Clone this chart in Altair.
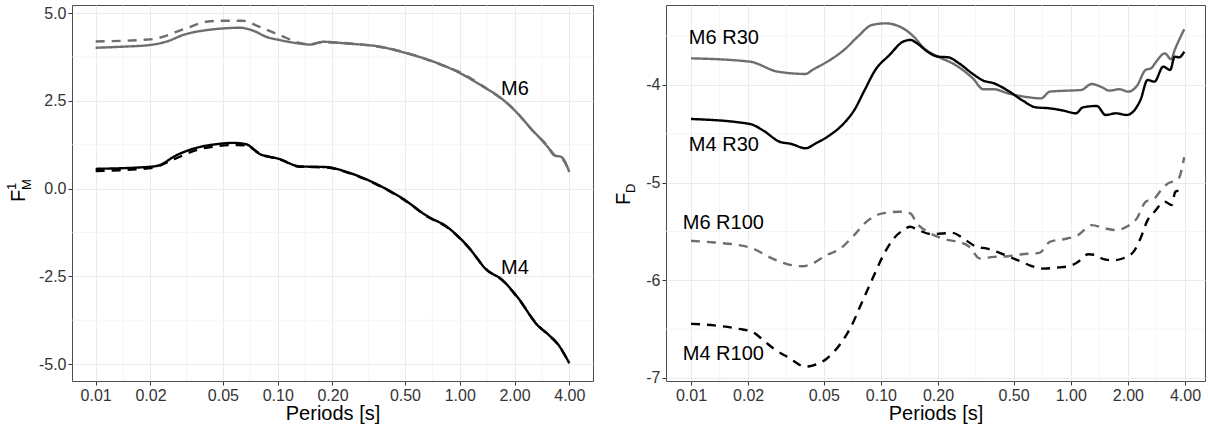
import altair as alt
import pandas as pd

# ---------------- data ----------------
# Left panel: F_M^1
m6_solid_T = [0.01, 0.014, 0.02, 0.0243, 0.0313, 0.0404, 0.05, 0.0617, 0.0731, 0.0867, 0.1025, 0.132, 0.150, 0.178, 0.240, 0.366, 0.514, 0.722, 1.01, 1.20, 1.31, 1.45, 1.55, 2.0, 2.47, 3.05, 3.32, 3.61, 4.0]
m6_solid_v = [4.01, 4.04, 4.09, 4.18, 4.40, 4.51, 4.56, 4.58, 4.50, 4.32, 4.23, 4.13, 4.10, 4.18, 4.13, 4.04, 3.85, 3.61, 3.28, 3.06, 2.94, 2.80, 2.71, 2.23, 1.70, 1.18, 0.94, 0.90, 0.47]
m6_dash_T = [0.01, 0.02, 0.0313, 0.0404, 0.05, 0.064, 0.079, 0.1025, 0.132, 0.150, 0.178, 0.240, 0.366, 0.514, 0.722, 1.01, 1.31, 1.55, 2.0, 2.47, 3.05, 3.32, 3.61, 4.0]
m6_dash_v = [4.19, 4.25, 4.56, 4.75, 4.78, 4.78, 4.61, 4.37, 4.15, 4.11, 4.17, 4.14, 4.03, 3.86, 3.60, 3.30, 2.95, 2.70, 2.24, 1.69, 1.20, 0.95, 0.88, 0.49]
m4_solid_T = [0.01, 0.02, 0.0223, 0.0276, 0.0371, 0.0458, 0.0566, 0.0671, 0.0793, 0.1025, 0.132, 0.186, 0.240, 0.348, 0.49, 0.66, 0.855, 1.10, 1.42, 1.69, 2.08, 2.69, 3.05, 3.47, 4.0]
m4_solid_v = [0.56, 0.62, 0.66, 0.94, 1.18, 1.26, 1.30, 1.26, 0.99, 0.84, 0.63, 0.61, 0.47, 0.13, -0.30, -0.78, -1.10, -1.63, -2.34, -2.58, -3.10, -3.91, -4.15, -4.44, -4.98]
m4_dash_T = [0.01, 0.02, 0.0276, 0.0371, 0.0458, 0.0566, 0.0671, 0.0793, 0.1025, 0.132, 0.186, 0.240, 0.348, 0.49, 0.66, 0.855, 1.10, 1.42, 1.69, 2.08, 2.69, 3.05, 3.47, 4.0]
m4_dash_v = [0.50, 0.58, 0.86, 1.12, 1.20, 1.24, 1.23, 1.00, 0.83, 0.62, 0.60, 0.46, 0.12, -0.31, -0.79, -1.11, -1.64, -2.33, -2.59, -3.11, -3.90, -4.16, -4.45, -4.97]

# Right panel: F_D
m6r30_T = [0.01, 0.0204, 0.0286, 0.0401, 0.0436, 0.054, 0.0639, 0.0756, 0.0896, 0.106, 0.126, 0.149, 0.169, 0.200, 0.247, 0.305, 0.347, 0.394, 0.467, 0.601, 0.698, 0.776, 0.959, 1.136, 1.289, 1.463, 1.592, 1.808, 2.01, 2.23, 2.48, 2.65, 2.82, 3.13, 3.38, 3.53, 3.96]
m6r30_v = [-3.727, -3.761, -3.863, -3.887, -3.846, -3.744, -3.642, -3.505, -3.386, -3.369, -3.403, -3.505, -3.625, -3.710, -3.795, -3.932, -4.044, -4.044, -4.085, -4.126, -4.137, -4.068, -4.058, -4.051, -3.990, -4.024, -4.058, -4.044, -4.068, -4.010, -3.846, -3.829, -3.761, -3.676, -3.737, -3.642, -3.430]
m4r30_T = [0.01, 0.0204, 0.0241, 0.0292, 0.0338, 0.0401, 0.0455, 0.054, 0.0639, 0.0725, 0.0822, 0.0935, 0.111, 0.131, 0.143, 0.155, 0.176, 0.200, 0.227, 0.258, 0.305, 0.347, 0.394, 0.467, 0.553, 0.655, 0.776, 0.918, 1.066, 1.159, 1.373, 1.527, 1.733, 1.968, 2.33, 2.54, 2.76, 3.07, 3.34, 3.53, 3.72, 3.96]
m4r30_v = [-4.348, -4.399, -4.468, -4.580, -4.604, -4.648, -4.597, -4.512, -4.392, -4.256, -4.051, -3.846, -3.693, -3.556, -3.539, -3.573, -3.659, -3.710, -3.717, -3.778, -3.887, -3.956, -3.983, -4.058, -4.154, -4.229, -4.239, -4.263, -4.290, -4.229, -4.215, -4.307, -4.290, -4.307, -4.154, -3.949, -3.966, -3.812, -3.846, -3.710, -3.717, -3.659]
m6r100_T = [0.01, 0.0133, 0.0179, 0.0212, 0.0262, 0.0324, 0.0384, 0.0436, 0.0516, 0.0612, 0.071, 0.0859, 0.102, 0.126, 0.143, 0.155, 0.176, 0.200, 0.227, 0.258, 0.293, 0.332, 0.394, 0.467, 0.553, 0.684, 0.776, 0.959, 1.09, 1.289, 1.527, 1.733, 1.968, 2.23, 2.48, 2.76, 3.0, 3.24, 3.67, 3.96]
m6r100_v = [-5.596, -5.613, -5.640, -5.675, -5.767, -5.836, -5.856, -5.829, -5.743, -5.675, -5.555, -5.384, -5.315, -5.298, -5.315, -5.418, -5.503, -5.555, -5.589, -5.606, -5.658, -5.777, -5.760, -5.753, -5.733, -5.719, -5.606, -5.572, -5.538, -5.435, -5.469, -5.486, -5.452, -5.366, -5.195, -5.161, -5.075, -5.01, -4.97, -4.74]
m4r100_T = [0.01, 0.0133, 0.0179, 0.0212, 0.0241, 0.0274, 0.0324, 0.0401, 0.0436, 0.0516, 0.0612, 0.0695, 0.0789, 0.0896, 0.102, 0.115, 0.131, 0.143, 0.155, 0.184, 0.209, 0.237, 0.280, 0.320, 0.363, 0.410, 0.467, 0.553, 0.626, 0.712, 0.84, 0.98, 1.09, 1.236, 1.373, 1.463, 1.661, 1.968, 2.14, 2.33, 2.54, 2.76, 3.13, 3.4, 3.56, 3.8, 3.96]
m4r100_v = [-6.445, -6.462, -6.497, -6.531, -6.616, -6.702, -6.788, -6.884, -6.873, -6.805, -6.651, -6.479, -6.240, -6.000, -5.760, -5.589, -5.486, -5.452, -5.479, -5.527, -5.521, -5.514, -5.589, -5.658, -5.675, -5.709, -5.753, -5.812, -5.856, -5.880, -5.870, -5.856, -5.812, -5.733, -5.743, -5.777, -5.795, -5.760, -5.709, -5.572, -5.384, -5.298, -5.195, -5.229, -5.092, -5.075, -5.06]

x_ticks = [0.01, 0.02, 0.05, 0.10, 0.20, 0.50, 1.00, 2.00, 4.00]
x_minor = [0.01414, 0.03162, 0.07071, 0.1414, 0.3162, 0.7071, 1.414, 2.828]
left_y_ticks = [-5.0, -2.5, 0.0, 2.5, 5.0]
left_y_minor = [-3.75, -1.25, 1.25, 3.75]
right_y_ticks = [-7, -6, -5, -4]
right_y_minor = [-6.5, -5.5, -4.5, -3.5]

left_labels = ["M6", "M4"]
left_label_T = [2.01, 2.01]
left_label_v = [2.84, -2.27]
right_labels = ["M6 R30", "M4 R30", "M6 R100", "M4 R100"]
right_label_T = [0.0149, 0.0149, 0.0148, 0.0148]
right_label_v = [-3.52, -4.614, -5.414, -6.758]

GRAY = "#6e6e6e"
FONT = "Liberation Sans"


def long(series):
    rows = []
    for name, T, v in series:
        for t, val in zip(T, v):
            rows.append({"T": t, "v": val, "s": name})
    return pd.DataFrame(rows)


left_df = long([("M6 solid", m6_solid_T, m6_solid_v), ("M6 dash", m6_dash_T, m6_dash_v),
                ("M4 solid", m4_solid_T, m4_solid_v), ("M4 dash", m4_dash_T, m4_dash_v)])
right_df = long([("M6 R30", m6r30_T, m6r30_v), ("M6 R100", m6r100_T, m6r100_v),
                 ("M4 R30", m4r30_T, m4r30_v), ("M4 R100", m4r100_T, m4r100_v)])

xlabel_expr = "format(datum.value, '.2f')"


def panel(df, series_dom, colors, dashes, xdom, ydom, yticks, yminor, yfmt,
          lab, labT, labv, width, height, title_marks):
    xs = alt.Scale(type="log", domain=xdom, nice=False, zero=False)
    ys = alt.Scale(domain=ydom, nice=False, zero=False)
    neg = "datum.value < 0 ? '-' + format(-datum.value, '%s') : format(datum.value, '%s')" % (yfmt, yfmt)
    xax = alt.Axis(values=x_ticks, labelExpr=xlabel_expr, title="Periods [s]", labelOverlap=False, grid=True)
    yax = alt.Axis(values=yticks, labelExpr=neg, title=None, labelOverlap=False, grid=True)

    lines = alt.Chart(df).mark_line(strokeWidth=2.4, clip=True, interpolate="monotone").encode(
        x=alt.X("T:Q", scale=xs, axis=xax),
        y=alt.Y("v:Q", scale=ys, axis=yax),
        color=alt.Color("s:N", scale=alt.Scale(domain=series_dom, range=colors), legend=None),
        strokeDash=alt.StrokeDash("s:N", scale=alt.Scale(domain=series_dom, range=dashes), legend=None),
        order=alt.Order("T:Q"),
    )
    xminor = alt.Chart(pd.DataFrame({"T": x_minor})).mark_rule(color="#f0f0f0", strokeWidth=0.7).encode(
        x=alt.X("T:Q", scale=xs, axis=xax))
    yminor_l = alt.Chart(pd.DataFrame({"v": yminor})).mark_rule(color="#f0f0f0", strokeWidth=0.7).encode(
        y=alt.Y("v:Q", scale=ys, axis=yax))
    texts = alt.Chart(pd.DataFrame({"T": labT, "v": labv, "t": lab})).mark_text(
        font=FONT, fontSize=20, color="black", align="center", baseline="middle").encode(
        x=alt.X("T:Q", scale=xs, axis=xax), y=alt.Y("v:Q", scale=ys, axis=yax), text="t:N")
    layers = [xminor, yminor_l, lines, texts] + title_marks
    return alt.layer(*layers).properties(width=width, height=height)


def title_text(txt, x, y, size, align="left"):
    return alt.Chart(pd.DataFrame({"t": [txt]})).mark_text(
        font=FONT, fontSize=size, color="black", angle=270, align=align, baseline="middle").encode(
        x=alt.value(x), y=alt.value(y), text="t:N")


left_titles = [title_text("F", -53, 197, 20), title_text("1", -60, 185, 13), title_text("M", -45, 185, 13)]
right_titles = [title_text("F", -42, 200, 20), title_text("D", -35, 188, 13)]

left = panel(left_df, ["M6 solid", "M6 dash", "M4 solid", "M4 dash"],
             [GRAY, GRAY, "black", "black"], [[1, 0], [9, 7], [1, 0], [9, 7]],
             [0.0074131, 5.3959], [-5.484, 5.228], left_y_ticks, left_y_minor, ".1f",
             left_labels, left_label_T, left_label_v, 521, 376, left_titles)
right = panel(right_df, ["M6 R30", "M6 R100", "M4 R30", "M4 R100"],
              [GRAY, GRAY, "black", "black"], [[1, 0], [9, 7], [1, 0], [9, 7]],
              [0.007385, 5.096], [-7.031, -3.181], right_y_ticks, right_y_minor, "d",
              right_labels, right_label_T, right_label_v, 539, 376, right_titles)

chart = alt.hconcat(left, right, spacing=73, bounds="flush").properties(
    padding={"left": 5, "top": 4, "right": 0, "bottom": 0}
).configure_view(stroke="#4d4d4d", strokeWidth=1).configure_axis(
    labelFont=FONT, labelFontSize=16, labelColor="#333333", tickColor="#333333", tickSize=4,
    tickWidth=1, domain=False, labelPadding=2, titleFont=FONT, titleFontSize=20, titleColor="black",
    titleFontWeight="normal", titlePadding=0, gridColor="#ebebeb", gridWidth=1
)

chart.save("out.html", embed_options={"renderer": "svg", "actions": False})
